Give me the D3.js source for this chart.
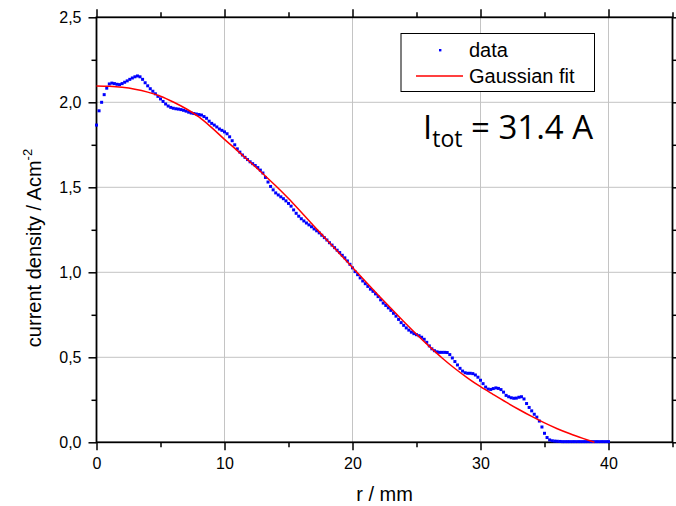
<!DOCTYPE html>
<meta charset="utf-8">
<style>
body { margin: 0; background: #fff; }
svg text { font-family: "Liberation Sans", Arial, sans-serif; fill: #000; }
.grid line { stroke: #c4c4c4; stroke-width: 1; }
.axis line { stroke: #000; stroke-width: 1.5; }
.axis path { display: none; }
</style>
<svg width="676" height="506"></svg>
<script src="https://d3js.org/d3.v7.min.js"></script>
<script>

var svg = d3.select("svg");

// measured current density, one value every 0.2 mm from r = 0 to 40 mm
var rStep = 0.2;
var density = [
  1.866, 1.950, 2.000, 2.045, 2.083, 2.108, 2.113, 2.110, 2.106, 2.104,
  2.110, 2.118, 2.126, 2.135, 2.143, 2.150, 2.155, 2.150, 2.135, 2.115,
  2.097, 2.080, 2.065, 2.050, 2.035, 2.020, 2.005, 1.990, 1.978, 1.970,
  1.965, 1.962, 1.960, 1.957, 1.953, 1.948, 1.942, 1.937, 1.934, 1.931,
  1.928, 1.925, 1.916, 1.906, 1.889, 1.876, 1.866, 1.855, 1.843, 1.835,
  1.826, 1.815, 1.797, 1.774, 1.750, 1.726, 1.707, 1.690, 1.676, 1.663,
  1.650, 1.639, 1.628, 1.616, 1.601, 1.584, 1.558, 1.531, 1.505, 1.485,
  1.467, 1.455, 1.444, 1.433, 1.420, 1.405, 1.389, 1.367, 1.347, 1.330,
  1.315, 1.302, 1.290, 1.279, 1.268, 1.255, 1.244, 1.232, 1.218, 1.204,
  1.190, 1.174, 1.160, 1.145, 1.130, 1.116, 1.100, 1.085, 1.067, 1.047,
  1.026, 1.004, 0.986, 0.967, 0.949, 0.933, 0.917, 0.901, 0.888, 0.873,
  0.857, 0.838, 0.819, 0.805, 0.791, 0.776, 0.759, 0.742, 0.723, 0.704,
  0.688, 0.673, 0.660, 0.648, 0.639, 0.633, 0.627, 0.618, 0.606, 0.588,
  0.567, 0.550, 0.539, 0.532, 0.529, 0.529, 0.529, 0.528, 0.516, 0.496,
  0.475, 0.455, 0.435, 0.419, 0.409, 0.406, 0.406, 0.404, 0.396, 0.383,
  0.365, 0.345, 0.325, 0.313, 0.311, 0.316, 0.320, 0.317, 0.310, 0.295,
  0.276, 0.268, 0.262, 0.259, 0.260, 0.265, 0.268, 0.255, 0.228, 0.205,
  0.185, 0.165, 0.148, 0.125, 0.090, 0.053, 0.028, 0.014, 0.009, 0.007,
  0.006, 0.005, 0.004, 0.004, 0.004, 0.004, 0.004, 0.004, 0.004, 0.004,
  0.004, 0.004, 0.004, 0.004, 0.004, 0.004, 0.004, 0.004, 0.004, 0.004,
  0.004
];

var fitR = [0, 1, 2, 3, 4, 5, 6, 7, 8, 9, 10, 11, 12, 13, 14, 15, 16, 17, 18, 19,
            20, 21, 22, 23, 24, 25, 26, 27, 28, 29, 30, 31, 32, 33, 34, 35, 36, 37, 38, 38.9];
var fitV = [2.096, 2.094, 2.088, 2.077, 2.060, 2.036, 2.002, 1.962, 1.914, 1.851,
            1.782, 1.716, 1.649, 1.580, 1.509, 1.434, 1.353, 1.271, 1.190, 1.109,
            1.028, 0.947, 0.867, 0.788, 0.711, 0.636, 0.564, 0.496, 0.434, 0.378,
            0.327, 0.281, 0.236, 0.193, 0.152, 0.114, 0.080, 0.050, 0.023, 0.0];

// axes
var xTicks = [0, 10, 20, 30, 40];
var xMinor = [5, 15, 25, 35, 45];
var yTicks = [0, 0.5, 1.0, 1.5, 2.0, 2.5];
var yMinor = [0.25, 0.75, 1.25, 1.75, 2.25];
var xGrid = [10, 20, 30, 40];
var yGrid = [0.5, 1.0, 1.5, 2.0];

var x = d3.scaleLinear().domain([0, 45]).range([96.5, 672.5]);
var y = d3.scaleLinear().domain([0, 2.5]).range([442.3, 17.3]);

var commaFmt = function(d) { return d3.format(".1f")(d).replace(".", ","); };

// grid lines
var grid = svg.append("g").attr("class", "grid");
grid.selectAll(".gx").data(xGrid).enter().append("line")
    .attr("x1", function(d) { return x(d); }).attr("x2", function(d) { return x(d); })
    .attr("y1", y(0)).attr("y2", y(2.5));
grid.selectAll(".gy").data(yGrid).enter().append("line")
    .attr("x1", x(0)).attr("x2", x(45))
    .attr("y1", function(d) { return y(d); }).attr("y2", function(d) { return y(d); });

// bottom
svg.append("g").attr("class", "axis").attr("transform", "translate(0," + y(0) + ")")
    .call(d3.axisBottom(x).tickValues(xTicks).tickSize(8).tickPadding(7).tickFormat(d3.format("d")))
    .style("font-size", "16px").style("font-family", null);
svg.append("g").attr("class", "axis").attr("transform", "translate(0," + y(0) + ")")
    .call(d3.axisBottom(x).tickValues(xMinor).tickSize(5).tickFormat(""));
// top
svg.append("g").attr("class", "axis").attr("transform", "translate(0," + y(2.5) + ")")
    .call(d3.axisTop(x).tickValues(xTicks).tickSize(8).tickFormat(""));
svg.append("g").attr("class", "axis").attr("transform", "translate(0," + y(2.5) + ")")
    .call(d3.axisTop(x).tickValues(xMinor).tickSize(5).tickFormat(""));
// left
svg.append("g").attr("class", "axis").attr("transform", "translate(" + x(0) + ",0)")
    .call(d3.axisLeft(y).tickValues(yTicks).tickSize(8).tickPadding(7).tickFormat(commaFmt))
    .style("font-size", "16px").style("font-family", null);
svg.append("g").attr("class", "axis").attr("transform", "translate(" + x(0) + ",0)")
    .call(d3.axisLeft(y).tickValues(yMinor).tickSize(5).tickFormat(""));
// right
svg.append("g").attr("class", "axis").attr("transform", "translate(" + x(45) + ",0)")
    .call(d3.axisRight(y).tickValues(yTicks).tickSize(8).tickFormat(""));
svg.append("g").attr("class", "axis").attr("transform", "translate(" + x(45) + ",0)")
    .call(d3.axisRight(y).tickValues(yMinor).tickSize(5).tickFormat(""));

// frame
svg.append("rect")
    .attr("x", x(0)).attr("y", y(2.5))
    .attr("width", x(45) - x(0)).attr("height", y(0) - y(2.5))
    .attr("fill", "none").attr("stroke", "#000").attr("stroke-width", 1.8);

// data points
var dot = 3;
svg.append("g").selectAll("rect")
    .data(density)
    .enter().append("rect")
    .attr("x", function(d, i) { return x(i * rStep) - dot / 2; })
    .attr("y", function(d) { return y(d) - dot / 2; })
    .attr("width", dot).attr("height", dot)
    .attr("fill", "#0000ff");

// fit
var fitLine = d3.line()
    .x(function(d, i) { return x(fitR[i]); })
    .y(function(d) { return y(d); })
    .curve(d3.curveMonotoneX);
svg.append("path")
    .datum(fitV)
    .attr("d", fitLine)
    .attr("fill", "none").attr("stroke", "#ff0000").attr("stroke-width", 1.5);

// axis titles
svg.append("text")
    .attr("x", (x(0) + x(45)) / 2).attr("y", 501)
    .attr("text-anchor", "middle").style("font-size", "20px")
    .text("r / mm");

var yt = svg.append("text")
    .attr("transform", "translate(41,248) rotate(-90)")
    .attr("text-anchor", "middle").style("font-size", "20px");
yt.append("tspan").text("current density / Acm");
yt.append("tspan").attr("dy", -9).style("font-size", "13px").text("-2");

// legend
var lg = svg.append("g");
lg.append("rect")
    .attr("x", 401).attr("y", 33.5).attr("width", 193.5).attr("height", 58)
    .attr("fill", "#fff").attr("stroke", "#000").attr("stroke-width", 1);
lg.append("rect").attr("x", 439).attr("y", 49).attr("width", 2.4).attr("height", 2.4).attr("fill", "#0000ff");
lg.append("line").attr("x1", 416).attr("x2", 463).attr("y1", 76).attr("y2", 76)
    .attr("stroke", "#ff0000").attr("stroke-width", 1.5);
lg.append("text").attr("x", 469).attr("y", 57).style("font-size", "20px").text("data");
lg.append("text").attr("x", 469).attr("y", 83).style("font-size", "20px").text("Gaussian fit");

// total current annotation
var ann = svg.append("text")
    .attr("x", 423).attr("y", 139)
    .style("font-family", "'Open Sans', sans-serif").style("font-size", "33px");
ann.append("tspan").text("I");
ann.append("tspan").attr("dy", 8).style("font-size", "23px").text("tot");
ann.append("tspan").attr("dy", -8).text(" = 31.4 A");

</script>
